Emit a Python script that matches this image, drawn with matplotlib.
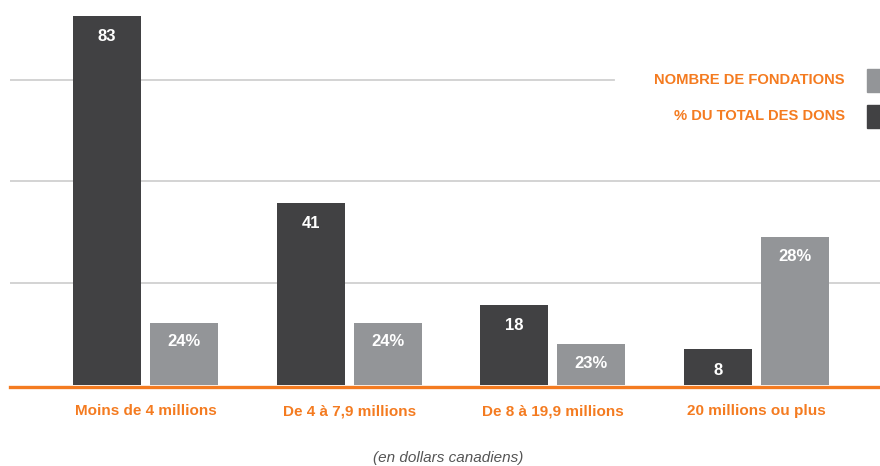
import matplotlib.pyplot as plt
from matplotlib.patches import Rectangle
import numpy as np

plt.rcParams['font.family'] = ['Liberation Sans', 'DejaVu Sans']

# Données
categories = ["Moins de 4 millions", "De 4 à 7,9 millions", "De 8 à 19,9 millions", "20 millions ou plus"]
dons = [83, 41, 18, 8]          # barres foncées
fondations = [24, 24, 23, 28]   # barres grises (%)
legende = ["NOMBRE DE FONDATIONS", "% DU TOTAL DES DONS"]

orange = "#F47B20"
fonce = "#414143"
gris = "#939598"
grille = "#d0d0d0"

fig = plt.figure(figsize=(8.8, 4.66), dpi=100)
ax = fig.add_axes([10 / 880, 81 / 466, 870 / 880, 385 / 466])
ax2 = ax.twinx()

x = np.arange(len(categories))
largeur = 0.334
decalage = 0.189

ax.set_xlim(-0.665, 3.606)
ax.set_ylim(0, 86.5)
plancher = 21.1
ax2.set_ylim(plancher, 39.1)

# Lignes de grille
for i, g in enumerate([22.9, 45.8, 68.6]):
    xmax = 0.694 if i == 2 else 1.0
    ax.axhline(g, xmin=0, xmax=xmax, color=grille, lw=1.3, zorder=0)

b1 = ax.bar(x - decalage, dons, width=largeur, color=fonce, zorder=2)
b2 = ax2.bar(x + decalage, [v - plancher for v in fondations], bottom=plancher,
             width=largeur, color=gris, zorder=2)

for rect, v in zip(b1, dons):
    ax.annotate(str(v), (rect.get_x() + rect.get_width() / 2, rect.get_height()),
                xytext=(0, -21), textcoords="offset pixels", ha="center", va="center",
                color="white", fontsize=12, fontweight="bold")
for rect, v in zip(b2, fondations):
    ax2.annotate(f"{v}%", (rect.get_x() + rect.get_width() / 2, v),
                 xytext=(0, -19), textcoords="offset pixels", ha="center", va="center",
                 color="white", fontsize=12, fontweight="bold")

# Ligne de base orange
ax.axhline(-0.35, color=orange, lw=2.4, clip_on=False, zorder=3)

for a in (ax, ax2):
    for s in a.spines.values():
        s.set_visible(False)
    a.set_yticks([])
ax.set_xticks(x)
ax.set_xticklabels(categories, color=orange, fontsize=11, fontweight="bold", va="baseline")
ax.tick_params(axis="x", length=0, pad=21.6)

# Légende
for i, (txt, col) in enumerate(zip(legende, [gris, fonce])):
    yc = 466 - (80.5 + 36 * i)
    fig.text(845 / 880, yc / 466, txt, ha="right", va="center", color=orange,
             fontsize=10.6, fontweight="bold")
    fig.patches.append(Rectangle((867 / 880, (yc - 11.5) / 466), 30 / 880, 23 / 466,
                                 transform=fig.transFigure, color=col))

fig.text(448 / 880, 8 / 466, "(en dollars canadiens)", ha="center", va="center",
         color="#555555", fontsize=11, style="italic")

plt.savefig("out.png", dpi=100)
